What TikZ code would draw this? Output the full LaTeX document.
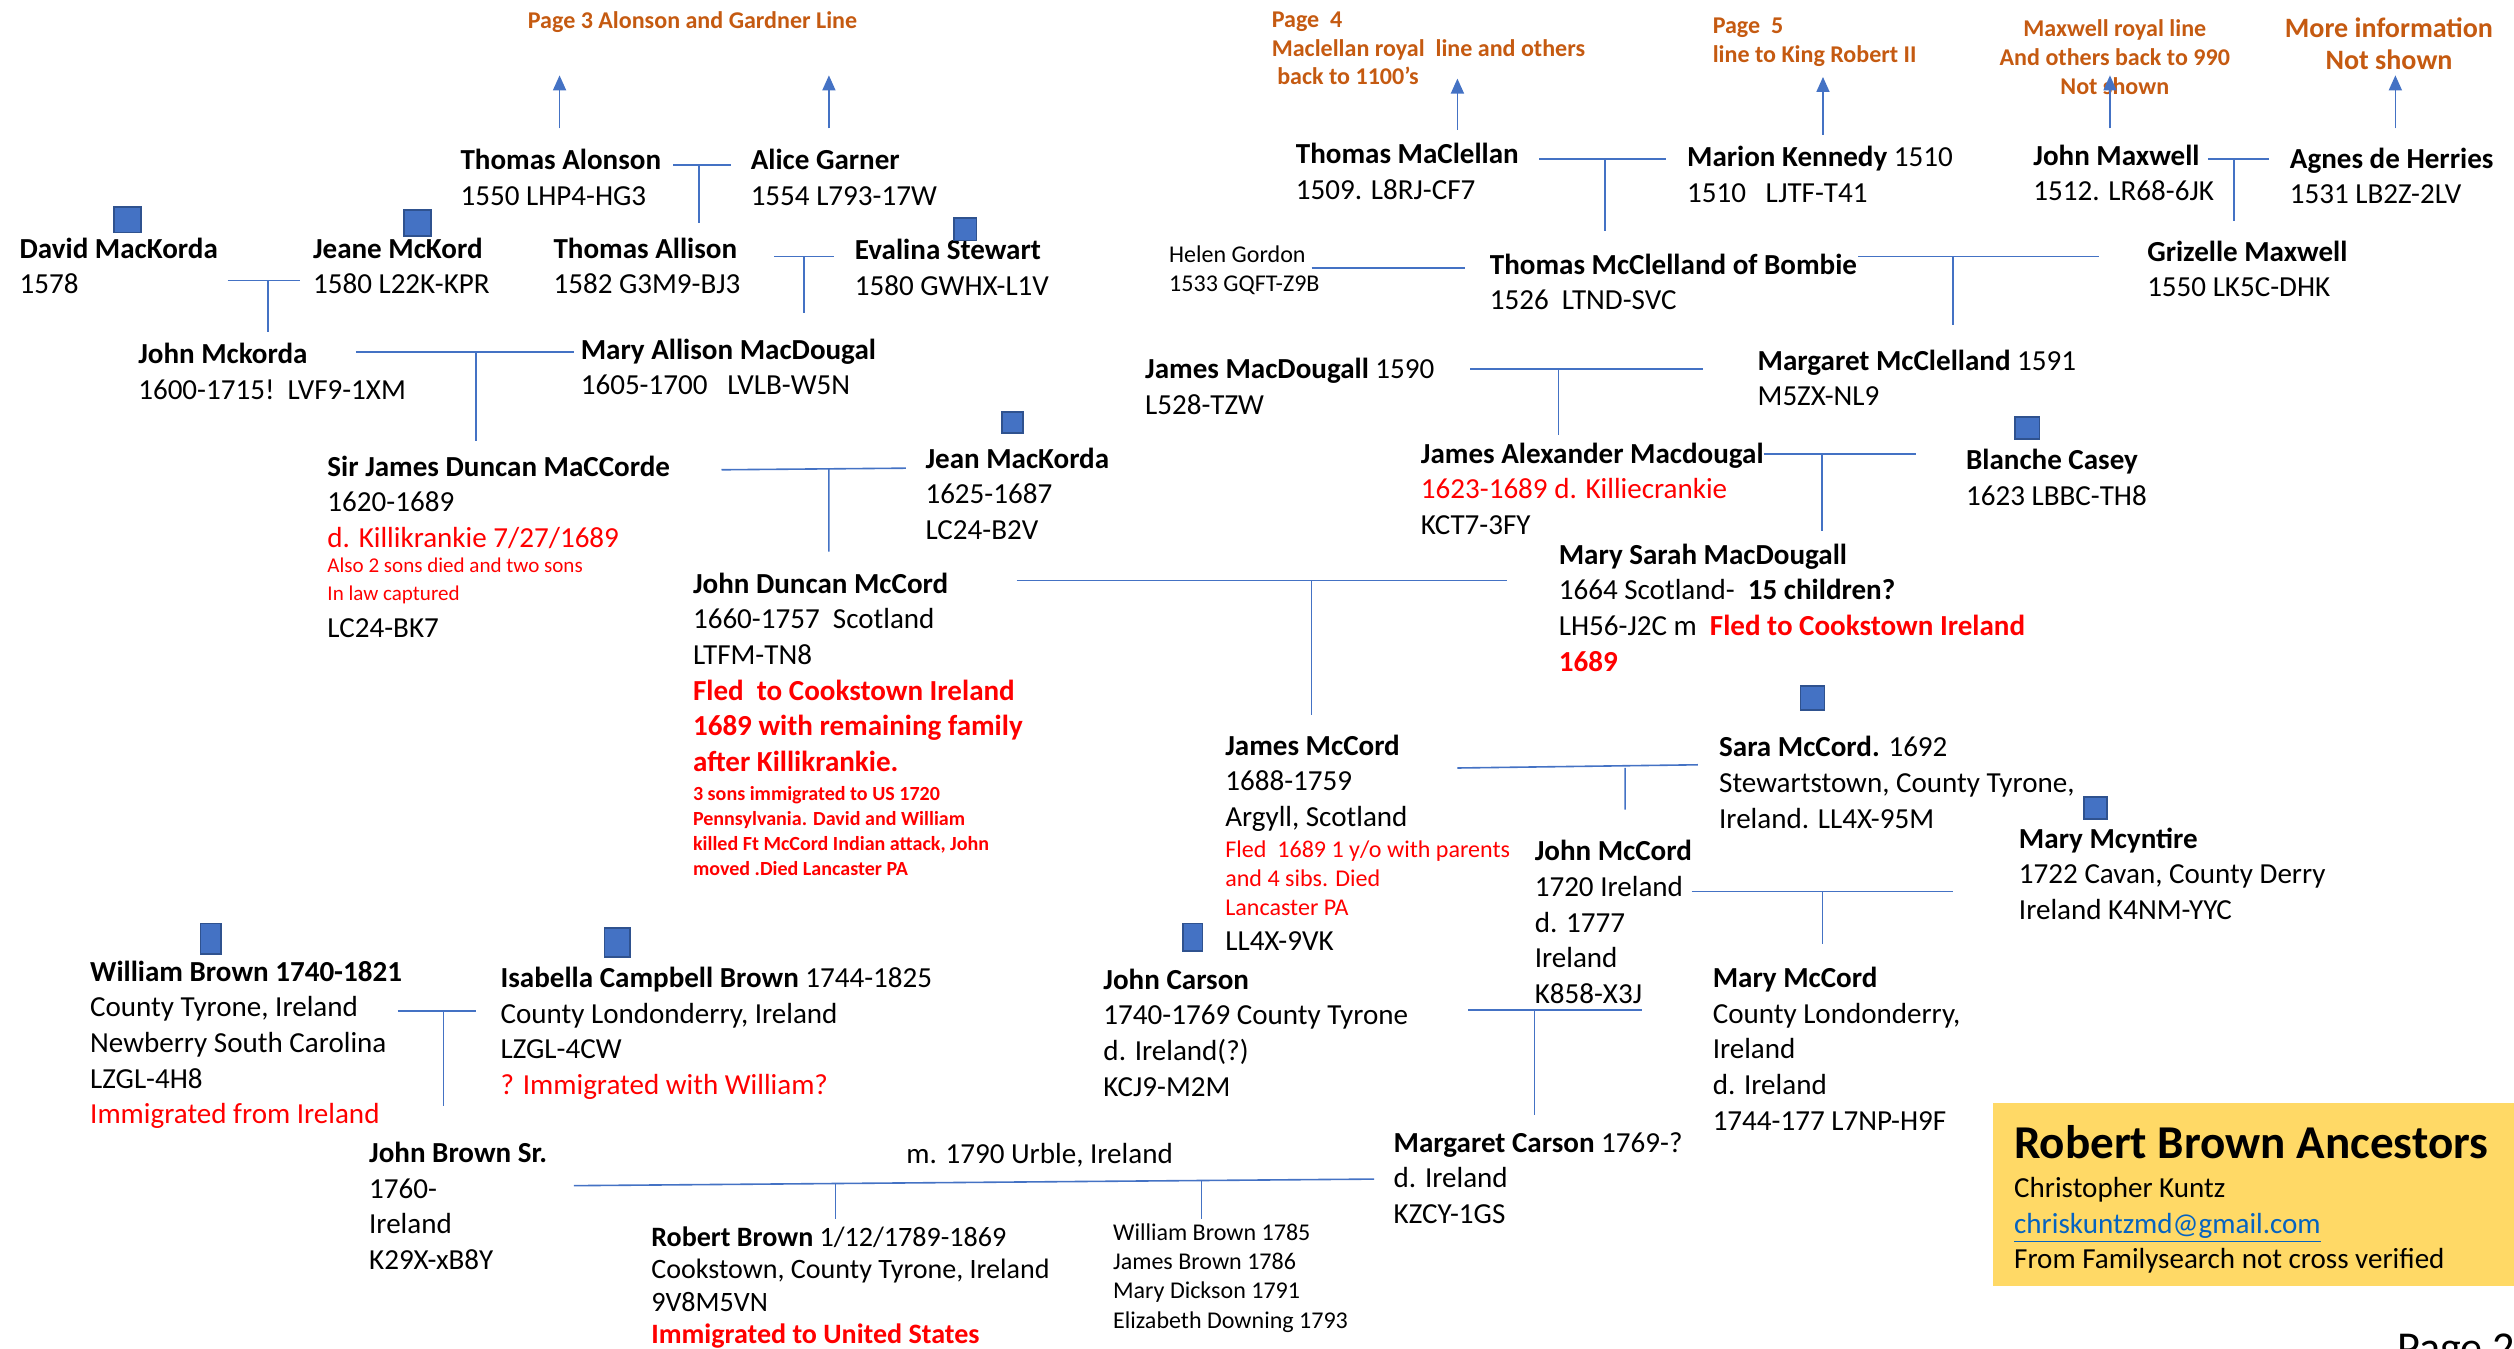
\documentclass[tikz,border=0pt]{standalone}
\usepackage{fontspec}
\setmainfont{Carlito}
\usepackage{xcolor}
\usetikzlibrary{arrows.meta}

\definecolor{linkblue}{HTML}{4472C4}
\definecolor{boxedge}{HTML}{2F528F}
\definecolor{pageorange}{HTML}{C55A11}
\definecolor{notegold}{HTML}{FFD966}
\definecolor{maillink}{HTML}{0563C1}

\tikzset{
  kin/.style={draw=linkblue, line width=0.8pt},
  upkin/.style={kin, -{Triangle[width=6.5pt,length=7.5pt]}},
  person/.style={anchor=north west, inner sep=0pt, align=left, yshift=-2.4pt,
    font=\fontsize{14.5}{17.8}\selectfont, execute at begin node=\strut},
  smallnote/.style={person, font=\fontsize{12}{14.6}\selectfont},
  tinynote/.style={person, text=red, font=\fontsize{10.5}{13.6}\selectfont},
  pagenote/.style={inner sep=0pt, align=left, text=pageorange, yshift=-2.4pt,
    font=\fontsize{12}{14.4}\selectfont\bfseries, execute at begin node=\strut},
  famsq/.style={fill=linkblue, draw=boxedge, line width=0.9pt}
}

\begin{document}
\begin{tikzpicture}[x=0.8pt, y=-0.8pt]
\useasboundingbox (0,0) rectangle (1568,841);

% pages with the older lines
\node[pagenote, anchor=north west] (page3) at (329,2) {Page 3 Alonson and Gardner Line};
\node[pagenote, anchor=north west] (page4) at (793,4) {Page\ \ 4\\Maclellan royal\ \ line and others\\\ back to 1100’s};
\node[pagenote, anchor=north west] (page5) at (1068,8) {Page\ \ 5\\line to King Robert II};
\node[pagenote, anchor=north, align=center] (maxline) at (1319,9) {Maxwell royal line\\And others back to 990\\Not shown};
\node[pagenote, anchor=north, align=center, font=\fontsize{14}{16}\selectfont\bfseries] (moreinfo) at (1490,8) {More information\\Not shown};

% oldest couples
\node[person] (alonson) at (287,90) {\textbf{Thomas Alonson}\\1550 LHP4-HG3};
\node[person] (garner) at (468,90) {\textbf{Alice Garner}\\1554 L793-17W};
\node[person] (maclellan) at (808,86) {\textbf{Thomas MaClellan}\\1509. L8RJ-CF7};
\node[person] (kennedy) at (1052,88) {\textbf{Marion Kennedy} 1510\\1510\ \ \ LJTF-T41};
\node[person] (jmaxwell) at (1268,87) {\textbf{John Maxwell}\\1512. LR68-6JK};
\node[person] (herries) at (1428,89) {\textbf{Agnes de Herries}\\1531 LB2Z-2LV};

\node[person] (david) at (12,145) {\textbf{David MacKorda}\\1578};
\node[person] (jeane) at (195,145) {\textbf{Jeane McKord}\\1580 L22K-KPR};
\node[person] (tallison) at (345,145) {\textbf{Thomas Allison}\\1582 G3M9-BJ3};
\node[person] (evalina) at (533,146) {\textbf{Evalina Stewart}\\1580 GWHX-L1V};
\node[smallnote] (helen) at (729,150) {Helen Gordon\\1533 GQFT-Z9B};
\node[person] (bombie) at (929,155) {\textbf{Thomas McClelland of Bombie}\\1526\ \ LTND-SVC};
\node[person] (grizelle) at (1339,147) {\textbf{Grizelle Maxwell}\\1550 LK5C-DHK};

\node[person] (jmckorda) at (86,211) {\textbf{John Mckorda}\\1600-1715!\ \ LVF9-1XM};
\node[person] (maryallison) at (362,208) {\textbf{Mary Allison MacDougal}\\1605-1700\ \ \ LVLB-W5N};
\node[person] (jmacdougall) at (714,220) {\textbf{James MacDougall} 1590\\L528-TZW};
\node[person] (mmcclelland) at (1096,215) {\textbf{Margaret McClelland} 1591\\M5ZX-NL9};

% Killiecrankie generation
\node[person] (maccorde) at (204,281) {\textbf{Sir James Duncan MaCCorde}\\1620-1689\\\textcolor{red}{d. Killikrankie 7/27/1689}};
\node[tinynote] (maccordenote) at (204,345) {Also 2 sons died and two sons\\In law captured};
\node[person] (maccordeid) at (204,379) {LC24-BK7};
\node[person] (jeanmk) at (577,276) {\textbf{Jean MacKorda}\\1625-1687\\LC24-B2V};
\node[person] (jamesalex) at (886,273) {\textbf{James Alexander Macdougal}\\\textcolor{red}{1623-1689 d. Killiecrankie}\\KCT7-3FY};
\node[person] (blanche) at (1226,277) {\textbf{Blanche Casey}\\1623 LBBC-TH8};

\node[person] (johnduncan) at (432,354) {\textbf{John Duncan McCord}\\1660-1757\ \ Scotland\\LTFM-TN8\\
  \textcolor{red}{\textbf{Fled\ \ to Cookstown Ireland}}\\\textcolor{red}{\textbf{1689 with remaining family}}\\\textcolor{red}{\textbf{after Killikrankie.}}};
\node[tinynote, font=\fontsize{10}{12.5}\selectfont\bfseries] (johnduncannote) at (432,487) {3 sons immigrated to US 1720\\Pennsylvania. David and William\\killed Ft McCord Indian attack, John\\moved .Died Lancaster PA};
\node[person] (marysarah) at (972,336) {\textbf{Mary Sarah MacDougall}\\1664 Scotland-\ \ \textbf{15 children?}\\
  LH56-J2C m\ \ \textcolor{red}{\textbf{Fled to Cookstown Ireland}}\\\textcolor{red}{\textbf{1689}}};

% Ireland
\node[person] (jamesmc) at (764,455) {\textbf{James McCord}\\1688-1759\\Argyll, Scotland};
\node[smallnote, text=red] (jamesmcnote) at (764,521) {Fled\ \ 1689 1 y/o with parents\\and 4 sibs. Died\\Lancaster PA};
\node[person] (jamesmcid) at (764,574) {LL4X-9VK};
\node[person] (sara) at (1072,456) {\textbf{Sara McCord.} 1692\\Stewartstown, County Tyrone,\\Ireland. LL4X-95M};
\node[person] (johnmc) at (957,521) {\textbf{John McCord}\\1720 Ireland\\d. 1777\\Ireland\\K858-X3J};
\node[person] (mcyntire) at (1259,513) {\textbf{Mary Mcyntire}\\1722 Cavan, County Derry\\Ireland K4NM-YYC};

\node[person] (wbrown) at (56,596) {\textbf{William Brown 1740-1821}\\County Tyrone, Ireland\\Newberry South Carolina\\LZGL-4H8\\\textcolor{red}{Immigrated from Ireland}};
\node[person] (isabella) at (312,600) {\textbf{Isabella Campbell Brown} 1744-1825\\County Londonderry, Ireland\\LZGL-4CW\\\textcolor{red}{? Immigrated with William?}};
\node[person] (jcarson) at (688,601) {\textbf{John Carson}\\1740-1769 County Tyrone\\d. Ireland(?)\\KCJ9-M2M};
\node[person] (marymc) at (1068,600) {\textbf{Mary McCord}\\County Londonderry,\\Ireland\\d. Ireland\\1744-177 L7NP-H9F};

\node[person] (jbrownsr) at (230,709) {\textbf{John Brown Sr.}\\1760-\\Ireland\\K29X-xB8Y};
\node[person] (married) at (565,707) {m. 1790 Urble, Ireland};
\node[person] (mcarson) at (869,703) {\textbf{Margaret Carson} 1769-?\\d. Ireland\\KZCY-1GS};
\node[person, font=\fontsize{14}{16.1}\selectfont] (rbrown) at (406,762) {\textbf{Robert Brown} 1/12/1789-1869\\Cookstown, County Tyrone, Ireland\\9V8M5VN\\\textcolor{red}{\textbf{Immigrated to United States}}};
\node[smallnote] (siblings) at (694,760) {William Brown 1785\\James Brown 1786\\Mary Dickson 1791\\Elizabeth Downing 1793};

% title box
\fill[notegold] (1243,688) rectangle (1568,802);
\node[person, font=\fontsize{23.5}{28}\selectfont\bfseries] (title) at (1256,695) {Robert Brown Ancestors};
\node[person] (credits) at (1256,731) {Christopher Kuntz\\\textcolor{maillink}{\underline{chriskuntzmd@gmail.com}}\\From Familysearch not cross verified};
\node[anchor=base west, inner sep=0pt, font=\fontsize{22}{26}\selectfont] (pagenum) at (1495,850) {Page 2};

% arrows up to the other pages
\coordinate (up1) at (349,80);   \coordinate (tip1) at (349,47);
\coordinate (up2) at (517,80);   \coordinate (tip2) at (517,47);
\coordinate (up3) at (909,81);   \coordinate (tip3) at (909,49);
\coordinate (up4) at (1137,84);  \coordinate (tip4) at (1137,48);
\coordinate (up5) at (1316,80);  \coordinate (tip5) at (1316,47);
\coordinate (up6) at (1494,80);  \coordinate (tip6) at (1494,47);
\foreach \i in {1,...,6}
  \draw[upkin] (up\i) -- (tip\i);

% marriage lines and drops
\coordinate (agL) at (420,103);   \coordinate (agR) at (456,103);   \coordinate (agB) at (436,139);
\coordinate (mkL) at (960,99);    \coordinate (mkR) at (1039,99);   \coordinate (mkB) at (1001,144);
\coordinate (mhL) at (1377,99);   \coordinate (mhR) at (1415,99);   \coordinate (mhB) at (1393.5,138);
\coordinate (djL) at (142,175);   \coordinate (djR) at (187,175);   \coordinate (djB) at (167,207);
\coordinate (aeL) at (483,160);   \coordinate (aeR) at (520,160);   \coordinate (aeB) at (501.5,195);
\coordinate (hgL) at (818,167);   \coordinate (hgR) at (914,167);
\coordinate (bgL) at (1159,160);  \coordinate (bgR) at (1309,160);  \coordinate (bgB) at (1218,203);
\coordinate (jmL) at (222,219.5); \coordinate (jmR) at (358,219.5); \coordinate (jmB) at (297,275);
\coordinate (dmL) at (917,230);   \coordinate (dmR) at (1062,230);  \coordinate (dmB) at (972,271);
\coordinate (sjL) at (450,293);   \coordinate (sjR) at (565,292);   \coordinate (sjB) at (517,344);
\coordinate (abL) at (1100,283);  \coordinate (abR) at (1195,283);  \coordinate (abB) at (1136.5,331);
\coordinate (dsL) at (634,362);   \coordinate (dsR) at (940,362);   \coordinate (dsB) at (818,446);
\coordinate (jsL) at (909,479);   \coordinate (jsR) at (1059,477);  \coordinate (jsB) at (1013.6,505);
\coordinate (mcL) at (1055,556);  \coordinate (mcR) at (1218,556);  \coordinate (mcB) at (1136.6,589);
\coordinate (wiL) at (248,630.6); \coordinate (wiR) at (297,630.6); \coordinate (wiB) at (276.6,690);
\coordinate (cjL) at (915.6,630); \coordinate (cjR) at (1024,630);  \coordinate (cjB) at (957,695.6);
\coordinate (bcL) at (358,739.5); \coordinate (bcR) at (857,735.4);
\coordinate (rbT) at (521,738);   \coordinate (rbB) at (521,760);
\coordinate (sbT) at (749.4,736); \coordinate (sbB) at (749.4,760);

\foreach \c in {ag,mk,mh,dj,ae,bg,jm,dm,sj,ab,ds,js,mc,wi,cj}
  \draw[kin] (\c L) -- (\c R) (\c B |- \c L) -- (\c B);
\draw[kin] (hgL) -- (hgR);
\draw[kin] (bcL) -- (bcR);
\draw[kin] (rbT) -- (rbB);
\draw[kin] (sbT) -- (sbB);

% little blue markers
\filldraw[famsq] (71,129) rectangle (88,145);
\filldraw[famsq] (252,131) rectangle (269,147);
\filldraw[famsq] (595,136) rectangle (609,150);
\filldraw[famsq] (625,257) rectangle (638,270);
\filldraw[famsq] (1257,260) rectangle (1272,274);
\filldraw[famsq] (1123,428) rectangle (1138,443);
\filldraw[famsq] (1300,497) rectangle (1314,511);
\filldraw[famsq] (738,576) rectangle (750,593);
\filldraw[famsq] (125,576) rectangle (138,595);
\filldraw[famsq] (377,579) rectangle (393,597);
\end{tikzpicture}
\end{document}
